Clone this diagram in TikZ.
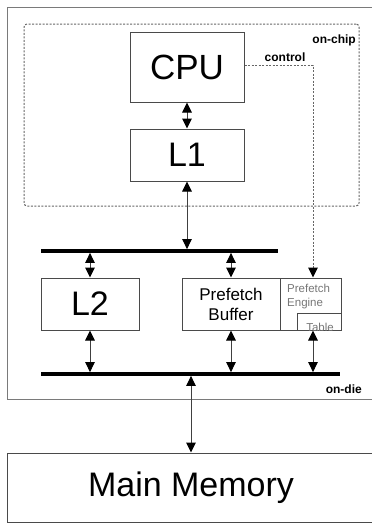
\documentclass[tikz,border=0pt]{standalone}
\usepackage{fontspec}
\setmainfont{Liberation Sans}
\usetikzlibrary{arrows.meta}
\definecolor{boxline}{HTML}{4A4A4A}
\definecolor{dieline}{HTML}{7A7A7A}
\definecolor{dashline}{HTML}{666666}
\definecolor{softtext}{HTML}{777777}
\tikzset{
  unit/.style={draw=boxline, line width=1pt, inner sep=0pt, anchor=center},
  bus/.style={fill=black, draw=none, minimum height=3.4pt, inner sep=0pt},
  tip/.tip={Triangle[length=10pt,width=9.5pt,color=black,fill=black]},
  link/.style={line width=1pt, draw=black!75, tip-tip},
  ctrl/.style={dash pattern=on 2pt off 1.5pt, draw=dashline, line width=1pt, -tip},
  tag/.style={font=\bfseries\fontsize{12}{14}\selectfont, inner sep=0pt}
}
\begin{document}
\begin{tikzpicture}[x=1pt,y=-1pt]
\useasboundingbox (0,0) rectangle (372,525);
\clip (0,0) rectangle (372,525);
\fill[white] (0,0) rectangle (372,525);
% on-die outer box
\node[draw=dieline, line width=1pt, minimum width=370pt, minimum height=392pt, inner sep=0pt] (die) at (192,203) {};
% on-chip dashed box
\node[draw=dashline, dash pattern=on 2pt off 1.5pt, line width=1pt, rounded corners=3pt, minimum width=335pt, minimum height=182pt, inner sep=0pt] (chip) at (191.5,115) {};
\node[tag, anchor=east] (onchip) at (356,40) {on-chip};
\node[tag, anchor=center] (ctrltxt) at (285,57) {control};
\node[tag, anchor=east] (ondie) at (362,389) {on-die};
% units
\node[unit, minimum width=114pt, minimum height=70pt, font=\fontsize{35}{40}\selectfont] (cpu) at (187,67) {CPU};
\node[unit, minimum width=114pt, minimum height=52pt, font=\fontsize{34}{40}\selectfont] (l1) at (187,155) {L1};
\node[unit, minimum width=98pt, minimum height=52pt, font=\fontsize{34}{40}\selectfont] (l2) at (90,304) {L2};
\node[unit, minimum width=98pt, minimum height=52pt, align=center, font=\fontsize{17}{20}\selectfont] (pb) at (231,304) {Prefetch\\Buffer};
\node[unit, minimum width=61pt, minimum height=52pt] (eng) at (310.5,304) {};
\node[anchor=north west, align=left, inner sep=0pt, text=softtext, font=\fontsize{11.5}{14}\selectfont] (engtxt) at (287,284) {Prefetch\\Engine};
\node[unit, minimum width=44pt, minimum height=17pt] (tbl) at (319,321.5) {};
\begin{scope}
\clip (297,313) rectangle (341,330);
\node[text=softtext, font=\fontsize{11.5}{14}\selectfont, inner sep=0pt] (tbltxt) at (320,327) {Table};
\end{scope}
\node[unit, minimum width=368pt, minimum height=69pt, font=\fontsize{34}{40}\selectfont] (mem) at (191,487.5) {Main Memory};
% buses
\node[bus, minimum width=237pt] (bus1) at (159.5,251) {};
\node[bus, minimum width=299pt] (bus2) at (190.5,374) {};
% connectors
\draw[link] (cpu.south) -- (l1.north);
\draw[link] (l1.south) -- (l1.south |- bus1.north);
\draw[link] (bus1.south -| l2.north) -- (l2.north);
\draw[link] (bus1.south -| pb.north) -- (pb.north);
\draw[link] (l2.south) -- (l2.south |- bus2.north);
\draw[link] (pb.south) -- (pb.south |- bus2.north);
\draw[link] ([xshift=2.5pt]eng.south) -- ([xshift=2.5pt]eng.south |- bus2.north);
\draw[link] (bus2.south -| 191,0) -- (mem.north -| 191,0);
\draw[ctrl] ([yshift=2pt]cpu.east) -| ([xshift=2.5pt]eng.north);
\end{tikzpicture}
\end{document}
